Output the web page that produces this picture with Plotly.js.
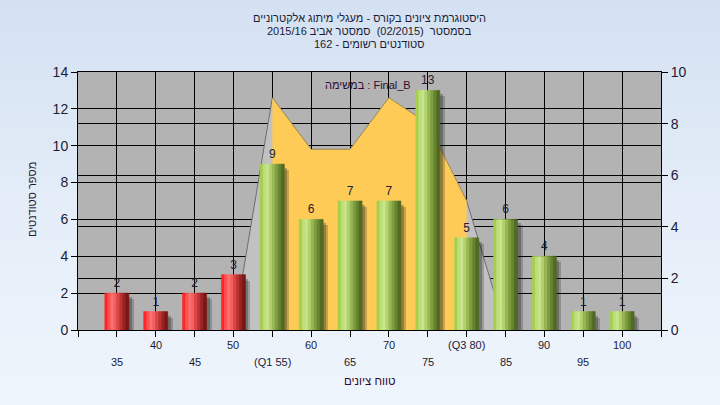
<!DOCTYPE html>
<html>
<head>
<meta charset="utf-8">
<script src="https://cdn.plot.ly/plotly-3.0.1.min.js"></script>
<style>
html,body{margin:0;padding:0;width:720px;height:405px;overflow:hidden;
background:linear-gradient(to bottom,#d4e1f2 0%,#e4edf8 50%,#eff5fc 100%);}
#chart{width:720px;height:405px;}
</style>
</head>
<body>
<div id="chart"></div>
<script>
// ---- data ----
const grades = [35, 40, 45, 50, 55, 60, 65, 70, 75, 80, 85, 90, 95, 100];
const tickLabels = ['35','40','45','50','(Q1 55)','60','65','70','75','(Q3 80)','85','90','95','100'];
const counts = [2, 1, 2, 3, 9, 6, 7, 7, 13, 5, 6, 4, 1, 1];
const passGrade = 55;
const q1Grade = 55;
const q3Grade = 80;
// distribution curve (right axis)
const curveGrades = [50, 55, 60, 65, 70, 75, 80, 85];
const curveVals   = [0, 9, 7, 7, 9, 8, 5, 0];
const titleLines = [
  'היסטוגרמת ציונים בקורס - מעגלי מיתוג אלקטרוניים',
  'בסמסטר  (02/2015)  סמסטר אביב 2015/16',
  'סטודנטים רשומים - 162'
];
const legendText = 'Final_B : במשימה';
const xTitle = 'טווח ציונים';
const yTitle = 'מספר סטודנטים';

// ---- helpers ----
const rtl = s => '\u202B' + s + '\u202C';
const idx = grades.map((g, i) => i);
const gIndex = g => grades.indexOf(g);
const FONT = 'Liberation Sans, Arial, DejaVu Sans, sans-serif';
const TXT = '#1c1c34';

const pxX = 15 / 583;      // x units per pixel
const pxY = 14 / 258;      // left-axis units per pixel
const barW = 24 * pxX;

const redGrad = ['#ff2626','#ff5050','#ff7070','#f46060','#dc4646','#bc3232','#9a2222','#7a1616'];
const greenGrad = ['#a4d04c','#bedf78','#c9e68f','#b2d26c','#98b854','#7e9e40','#668530','#506a24'];
const nSl = redGrad.length;
const slW = barW / nSl;

const traces = [];

// distribution area (main y axis, right side)
const areaX = curveGrades.map(gIndex);
traces.push({
  type: 'scatter', x: areaX, y: curveVals, xaxis: 'x', yaxis: 'y',
  mode: 'lines', fill: 'tozeroy', fillcolor: '#c1c1c1',
  line: {color: '#6e6e6e', width: 1}, hoverinfo: 'skip', showlegend: false
});
const iqX = [], iqY = [];
curveGrades.forEach((g, i) => { if (g >= q1Grade && g <= q3Grade) { iqX.push(gIndex(g)); iqY.push(curveVals[i]); } });
traces.push({
  type: 'scatter', x: iqX, y: iqY, xaxis: 'x', yaxis: 'y',
  mode: 'lines', fill: 'tozeroy', fillcolor: '#fecb57',
  line: {color: 'rgba(170,140,70,0.7)', width: 1}, hoverinfo: 'skip', showlegend: false
});

// shadows
[[-7, 17, 6, 0.22], [-8, 15, 4, 0.28]].forEach(([l, r, d, a]) => {
  traces.push({
    type: 'bar', x: idx, y: counts, base: -d * pxY, xaxis: 'x', yaxis: 'y2',
    width: (r - l) * pxX, offset: l * pxX,
    marker: {color: `rgba(20,20,20,${a})`, line: {width: 0}},
    cliponaxis: false, hoverinfo: 'skip', showlegend: false
  });
});

// gradient bar slices
for (let k = 0; k < nSl; k++) {
  const cols = grades.map(g => g < passGrade ? redGrad[k] : greenGrad[k]);
  traces.push({
    type: 'bar', x: idx, y: counts, xaxis: 'x', yaxis: 'y2',
    width: slW, offset: -barW / 2 + k * slW,
    marker: {color: cols, line: {width: 0.6, color: cols}},
    hoverinfo: 'skip', showlegend: false
  });
}

// value labels (lifted a few pixels above the bar tops)
traces.push({
  type: 'scatter', mode: 'text', x: idx, y: counts.map(c => c + 3 * pxY), xaxis: 'x', yaxis: 'y2',
  text: counts.map(String), textposition: 'top center',
  textfont: {family: FONT, size: 12, color: TXT},
  cliponaxis: false, hoverinfo: 'skip', showlegend: false
});

// annotations: tick labels in two rows, titles, legend
const annotations = [];
tickLabels.forEach((t, i) => {
  annotations.push({
    x: i, xref: 'x', y: 0, yref: 'paper', yanchor: 'middle', xanchor: 'center',
    yshift: i % 2 === 1 ? -15 : -32, text: t, showarrow: false,
    font: {family: FONT, size: 11, color: TXT}
  });
});
annotations.push({
  x: 0.5, xref: 'paper', y: 0, yref: 'paper', yanchor: 'middle', yshift: -51,
  text: rtl(xTitle), showarrow: false, font: {family: FONT, size: 11.5, color: '#300a30'}
});
annotations.push({
  x: (32 - 78) / 583, xref: 'paper', y: (330 - 200) / 258, yref: 'paper', xanchor: 'center', yanchor: 'middle',
  textangle: -90, text: rtl(yTitle), showarrow: false, font: {family: FONT, size: 11, color: TXT}
});
annotations.push({
  x: (368 - 78) / 583, xref: 'paper', y: (330 - 85) / 258, yref: 'paper', xanchor: 'center', yanchor: 'middle',
  text: rtl(legendText), showarrow: false, font: {family: FONT, size: 11, color: '#300a30'}
});
// title lines
const titleY = [18, 31, 44];
titleLines.forEach((t, i) => {
  annotations.push({
    x: 0.5, xref: 'paper', y: 1, yref: 'paper', xanchor: 'center', yanchor: 'middle',
    yshift: 72 - titleY[i], text: rtl(t), showarrow: false,
    font: {family: FONT, size: 11, color: TXT}
  });
});

const xTicks = [];
for (let v = -1; v <= grades.length; v++) xTicks.push(v);

const layout = {
  width: 720, height: 405,
  margin: {l: 78, r: 59, t: 72, b: 75, pad: 0},
  paper_bgcolor: 'rgba(0,0,0,0)', plot_bgcolor: '#b3b3b3',
  barmode: 'overlay', bargap: 0,
  showlegend: false,
  title: {text: ''},
  xaxis: {
    range: [-1, grades.length], tickmode: 'array', tickvals: xTicks, ticktext: xTicks.map(() => ''),
    showgrid: true, gridcolor: '#000', gridwidth: 1, zeroline: false,
    showline: true, linecolor: '#000', linewidth: 1, mirror: true,
    ticks: 'outside', ticklen: 6, tickcolor: '#000', fixedrange: true
  },
  yaxis: {
    side: 'right', range: [0, 10], dtick: 2, tick0: 0,
    showgrid: true, gridcolor: '#000', gridwidth: 1, zeroline: false,
    showline: true, linecolor: '#000', linewidth: 1,
    ticks: 'outside', ticklen: 6, tickcolor: '#000',
    tickfont: {family: FONT, size: 14, color: TXT}
  },
  yaxis2: {
    overlaying: 'y', side: 'left', range: [0, 14], dtick: 2, tick0: 0,
    showgrid: true, gridcolor: '#000', gridwidth: 1, zeroline: false,
    showline: true, linecolor: '#000', linewidth: 1,
    ticks: 'outside', ticklen: 6, tickcolor: '#000',
    tickfont: {family: FONT, size: 14, color: TXT}
  },
  annotations: annotations
};

Plotly.newPlot('chart', traces, layout, {staticPlot: true});
</script>
</body>
</html>
